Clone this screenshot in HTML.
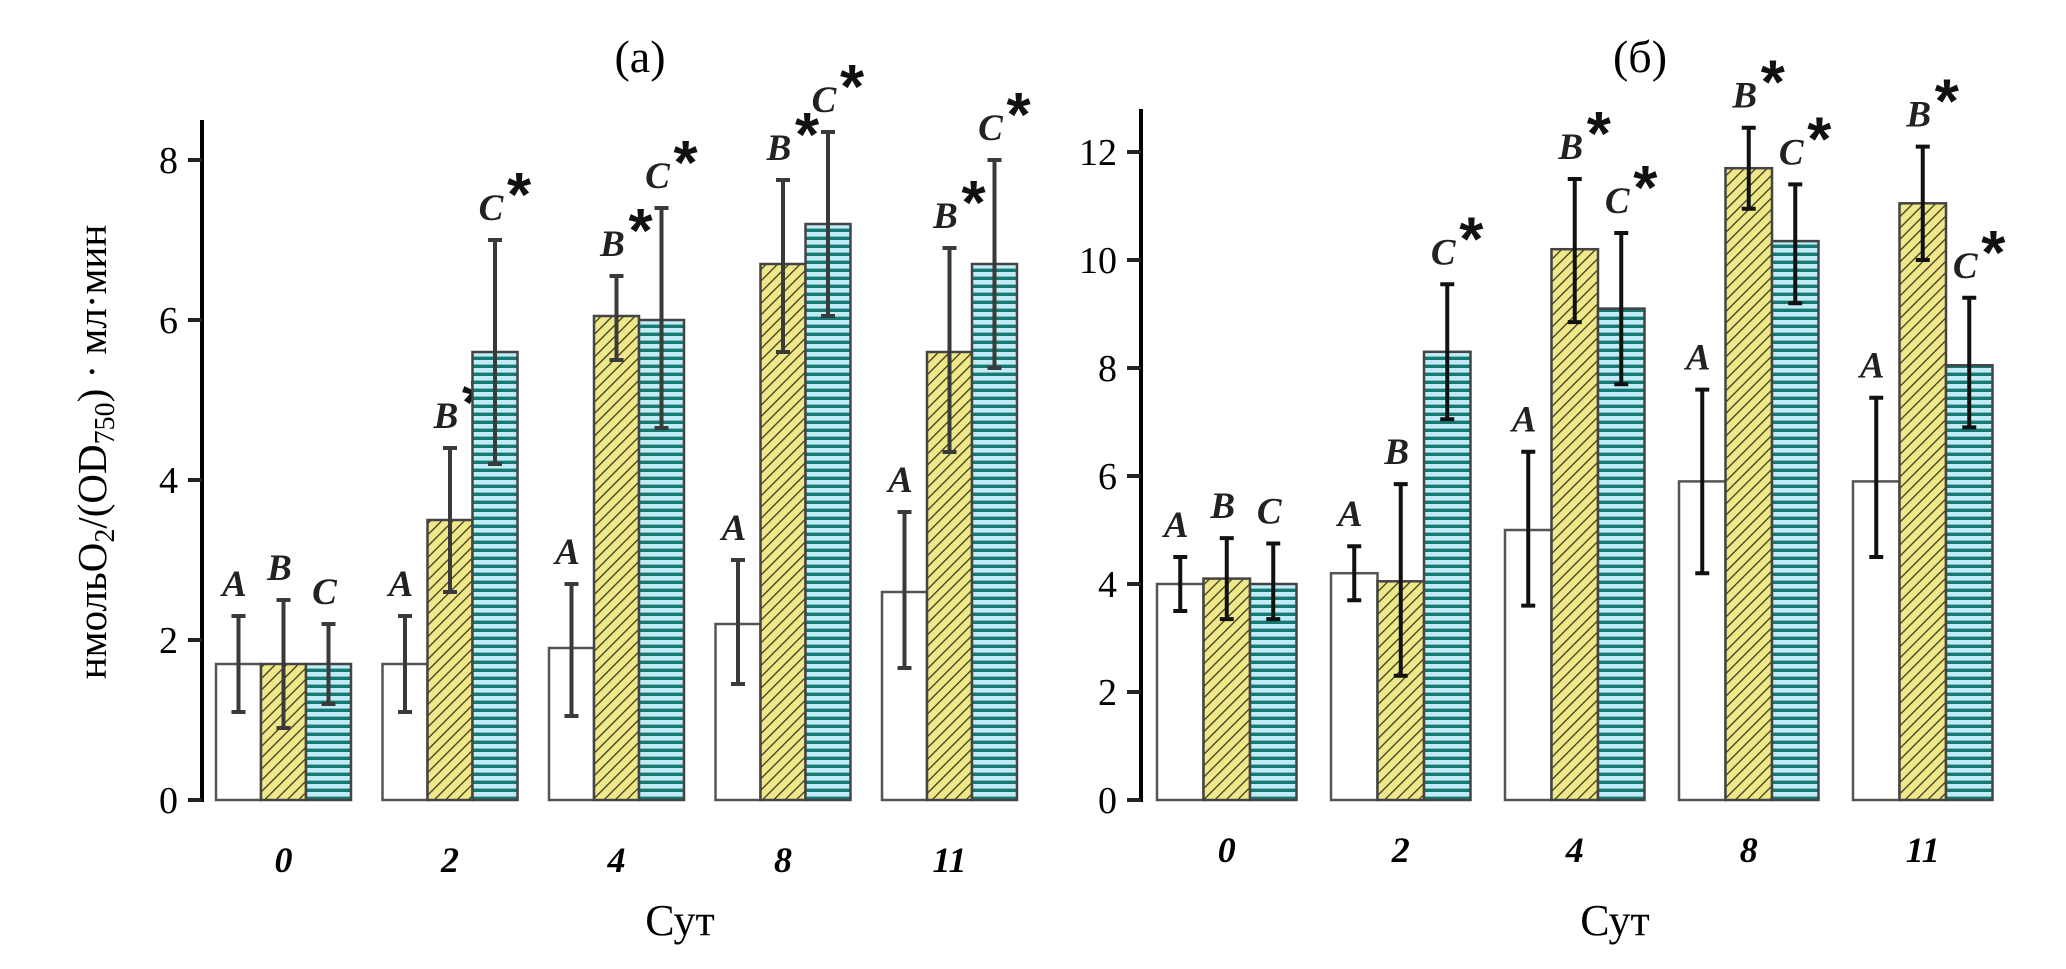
<!DOCTYPE html>
<html><head><meta charset="utf-8"><style>
html,body{margin:0;padding:0;background:#fff;}
svg{display:block;font-family:"Liberation Serif","DejaVu Serif",serif;}
</style></head><body>
<svg id="chart" width="2066" height="969" viewBox="0 0 2066 969">
<defs>
<pattern id="hatchY" patternUnits="userSpaceOnUse" width="8" height="8" patternTransform="rotate(45)">
<rect width="8" height="8" fill="#efe88a"/><line x1="0" y1="0" x2="0" y2="8" stroke="#3d3a1c" stroke-width="2.6"/>
</pattern>
<pattern id="hatchB" patternUnits="userSpaceOnUse" width="10" height="8">
<rect width="10" height="8" fill="#c2ebf5"/><rect y="4.6" width="10" height="3.4" fill="#157a73"/>
</pattern>
</defs>
<g id="gA"></g>
<g id="gB"></g>
</svg>
<script>
const categories = ["0","2","4","8","11"];
const letters = ["A","B","C"];
// panel a values
const aA = [1.7,1.7,1.9,2.2,2.6];
const aB = [1.7,3.5,6.05,6.7,5.6];
const aC = [1.7,5.6,6.0,7.2,6.7];
const aALo = [1.1,1.1,1.05,1.45,1.65], aAHi = [2.3,2.3,2.7,3.0,3.6];
const aBLo = [0.9,2.6,5.5,5.6,4.35], aBHi = [2.5,4.4,6.55,7.75,6.9];
const aCLo = [1.2,4.2,4.65,6.05,5.4], aCHi = [2.2,7.0,7.4,8.35,8.0];
const aStar = [[0,0,0],[0,1,1],[0,1,1],[0,1,1],[0,1,1]];
const aTicks = [0,2,4,6,8];
// panel b values
const bA = [4.0,4.2,5.0,5.9,5.9];
const bB = [4.1,4.05,10.2,11.7,11.05];
const bC = [4.0,8.3,9.1,10.35,8.05];
const bALo = [3.5,3.7,3.6,4.2,4.5], bAHi = [4.5,4.7,6.45,7.6,7.45];
const bBLo = [3.35,2.3,8.85,10.95,10.0], bBHi = [4.85,5.85,11.5,12.45,12.1];
const bCLo = [3.35,7.05,7.7,9.2,6.9], bCHi = [4.75,9.55,10.5,11.4,9.3];
const bStar = [[0,0,0],[0,0,1],[0,1,1],[0,1,1],[0,1,1]];
const bTicks = [0,2,4,6,8,10,12];

const NS="http://www.w3.org/2000/svg";
function mk(parent,tag,attrs,text){const e=document.createElementNS(NS,tag);for(const k in attrs)e.setAttribute(k,attrs[k]);if(text!==undefined)e.textContent=text;parent.appendChild(e);return e;}

function panel(g,cfg){
  const y=v=>cfg.y0-v*cfg.unit;
  const ax=mk(g,'line',{x1:cfg.axisX,x2:cfg.axisX,y1:cfg.axisTop,y2:cfg.y0+2,stroke:'#000','stroke-width':4});
  
  
  cfg.ticks.forEach(t=>{
    const tl=mk(g,'line',{x1:cfg.axisX-14,x2:cfg.axisX,y1:y(t),y2:y(t),stroke:'#222','stroke-width':4});
    
    
    const tx=mk(g,'text',{x:cfg.axisX-24,y:y(t)+13,'text-anchor':'end','font-size':38},String(t));
    
    
  });
  const fills=['#fff','url(#hatchY)','url(#hatchB)'];
  categories.forEach((c,i)=>{
    const gx=cfg.start+i*cfg.step;
    for(let s=0;s<3;s++){
      const v=cfg.vals[s][i], lo=cfg.lo[s][i], hi=cfg.hi[s][i];
      const x=gx+s*cfg.bw;
      const r=mk(g,'rect',{x:x,y:y(v),width:cfg.bw,height:cfg.y0-y(v),fill:fills[s],stroke:s==0?'#555':'#444','stroke-width':2.5});
      
      
      const cx=x+cfg.bw/2;
      const e=mk(g,'path',{d:`M${cx},${y(lo)}V${y(hi)}M${cx-7},${y(lo)}H${cx+7}M${cx-7},${y(hi)}H${cx+7}`,stroke:cfg.errCol,'stroke-width':4,fill:'none'});
      
      
      const ly=y(hi)-20;
      const lt=mk(g,'text',{x:cx-4,y:ly,'text-anchor':'middle','font-size':37,'font-style':'italic','font-weight':'bold',fill:'#222'},letters[s]);
      
      
      if(cfg.star[i][s]){
        const st=mk(g,'text',{x:cx+12,y:ly-4,'font-size':62,'font-weight':'bold',fill:'#111','font-family':'Liberation Sans, sans-serif'},'*');
        
        
      }
    }
    const cl=mk(g,'text',{x:gx+1.5*cfg.bw,y:cfg.labY,'text-anchor':'middle','font-size':36,'font-style':'italic','font-weight':'bold'},c);
    
    
  });
  const xt=mk(g,'text',{x:cfg.sutX,y:935,'text-anchor':'middle','font-size':44},'Сут');
  
  
  const tt=mk(g,'text',{x:cfg.titleX,y:72,'text-anchor':'middle','font-size':46},cfg.title);
  
  
}
panel(document.getElementById('gA'),{y0:800,unit:80,axisX:202,axisTop:120,ticks:aTicks,start:216,step:166.5,bw:45,
  vals:[aA,aB,aC],lo:[aALo,aBLo,aCLo],hi:[aAHi,aBHi,aCHi],star:aStar,errCol:'#3a3a3a',labY:872,sutX:680,titleX:640,title:'(а)'});
panel(document.getElementById('gB'),{y0:800,unit:54,axisX:1141,axisTop:109,ticks:bTicks,start:1157,step:174,bw:46.5,
  vals:[bA,bB,bC],lo:[bALo,bBLo,bCLo],hi:[bAHi,bBHi,bCHi],star:bStar,errCol:'#111',labY:862,sutX:1615,titleX:1640,title:'(б)'});
const yl=mk(document.getElementById('gA'),'text',{x:0,y:0,transform:'translate(106,452) rotate(-90)','text-anchor':'middle','font-size':41});


yl.innerHTML='нмольO<tspan font-size="28" dy="8">2</tspan><tspan dy="-8">/(OD</tspan><tspan font-size="28" dy="8">750</tspan><tspan dy="-8">)  · мл·мин</tspan>';
</script>
</body></html>
